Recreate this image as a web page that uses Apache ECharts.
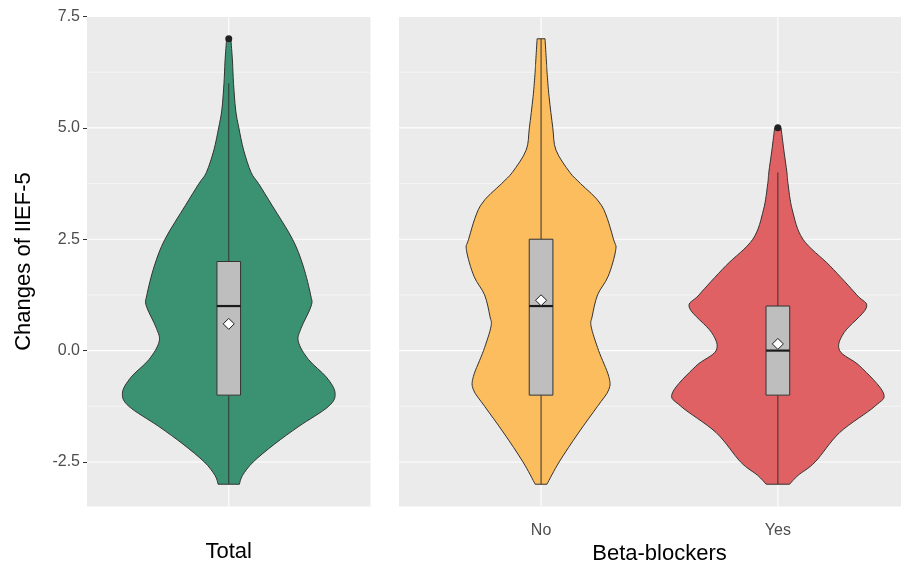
<!DOCTYPE html>
<html>
<head>
<meta charset="utf-8">
<script src="https://cdn.jsdelivr.net/npm/echarts@6/dist/echarts.min.js"></script>
<style>
  html, body { margin: 0; padding: 0; background: #ffffff; }
  #chart { width: 901px; height: 566px; }
</style>
</head>
<body>
<div id="chart"></div>
<script>
// Groups: 'Total' sits in the left panel, beta-blocker status in the right panel
const groupNames = ['Total', 'No', 'Yes'];
const panelOfGroup = [0, 1, 1];
const xOfGroup = [1, 1, 2];
const fillColors = ['#3A9273', '#FBBD5E', '#E06163'];

// Violin profiles: change-of-IIEF-5 levels and relative density (1 = widest violin)
const totalLevels  = [-3.0, -2.8, -2.5, -2.1, -1.7, -1.25, -0.95, -0.6, -0.2, 0.2, 0.5, 1.0, 1.25, 1.9, 2.5, 3.25, 3.75, 4.0, 4.5, 5.0, 5.4, 6.0, 6.5, 7.0];
const totalDensity = [0.10, 0.13, 0.23, 0.43, 0.66, 0.94, 1.00, 0.92, 0.75, 0.655, 0.68, 0.775, 0.77, 0.70, 0.60, 0.41, 0.28, 0.21, 0.14, 0.095, 0.065, 0.045, 0.035, 0.02];

const noLevels  = [-3.0, -2.5, -1.85, -1.25, -0.88, -0.58, 0.0, 0.54, 0.77, 1.25, 1.67, 2.25, 2.5, 3.25, 3.75, 4.0, 4.5, 5.0, 5.7, 6.25, 6.5, 7.0];
const noDensity = [0.055, 0.17, 0.35, 0.53, 0.635, 0.635, 0.54, 0.47, 0.48, 0.53, 0.63, 0.70, 0.68, 0.57, 0.37, 0.27, 0.14, 0.11, 0.075, 0.056, 0.05, 0.037];

const yesLevels  = [-3.0, -2.8, -2.5, -1.84, -1.25, -0.95, -0.35, 0.0, 0.4, 0.96, 1.25, 1.9, 2.5, 3.16, 3.75, 4.0, 4.5, 5.0];
const yesDensity = [0.11, 0.19, 0.35, 0.58, 0.91, 0.99, 0.77, 0.58, 0.62, 0.83, 0.74, 0.49, 0.235, 0.135, 0.095, 0.085, 0.056, 0.03];

// Box-plot summaries per group
const lowerWhisker = [-3, -3, -3];
const q1           = [-1, -1, -1];
const median       = [1, 1, 0];
const q3           = [2, 2.5, 1];
const upperWhisker = [6, 7, 4];
const meanValue    = [0.6, 1.13, 0.15];

// Outlying observations
const outlierGroup = [0, 2];
const outlierValue = [7, 5];

// Axis ticks and ranges (the right panel runs off the page edge)
const yMajorTicks = [-2.5, 0, 2.5, 5, 7.5];
const yMinorTicks = [-1.25, 1.25, 3.75, 6.25];
const yRange = [-3.5, 7.5];
const panelXRange = [[0.4, 1.6], [0.4, 2.52]];
const panelTitles = ['Total', 'Beta-blockers'];
const yTitle = 'Changes of IIEF-5';

const violinLevels = [totalLevels, noLevels, yesLevels];
const violinDensity = [totalDensity, noDensity, yesDensity];
const violinHalfWidth = 0.45;
const boxHalfWidth = 0.05;
const ink = '#333333';
const font = '"Liberation Sans", Arial, sans-serif';

function groupsIn(panel) {
  return groupNames.map((_, g) => g).filter(g => panelOfGroup[g] === panel);
}

// Background grid lines: kind 0 = major horizontal, 1 = minor horizontal, 2 = vertical
function gridLineData(panel) {
  const rows = [];
  yMajorTicks.forEach(v => rows.push([0, v]));
  yMinorTicks.forEach(v => rows.push([1, v]));
  groupsIn(panel).forEach(g => rows.push([2, xOfGroup[g]]));
  return rows;
}

function renderGridLine(params, api) {
  const kind = api.value(0);
  const v = api.value(1);
  const cs = params.coordSys;
  if (kind === 2) {
    const x = api.coord([v, 0])[0];
    return { type: 'line', shape: { x1: x, y1: cs.y, x2: x, y2: cs.y + cs.height },
             style: { stroke: '#ffffff', lineWidth: 1.1 } };
  }
  const y = api.coord([1, v])[1];
  return { type: 'line', shape: { x1: cs.x, y1: y, x2: cs.x + cs.width, y2: y },
           style: { stroke: '#ffffff', lineWidth: kind === 0 ? 1.1 : 0.55 } };
}

// Smooth open curve through pixel points (Catmull-Rom written as cubic Beziers)
function curveThrough(pts) {
  let d = '';
  for (let i = 0; i < pts.length - 1; i++) {
    const p0 = pts[Math.max(i - 1, 0)], p1 = pts[i], p2 = pts[i + 1], p3 = pts[Math.min(i + 2, pts.length - 1)];
    const c1 = [p1[0] + (p2[0] - p0[0]) / 6, p1[1] + (p2[1] - p0[1]) / 6];
    const c2 = [p2[0] - (p3[0] - p1[0]) / 6, p2[1] - (p3[1] - p1[1]) / 6];
    d += ' C' + c1[0].toFixed(2) + ' ' + c1[1].toFixed(2) + ' ' + c2[0].toFixed(2) + ' ' + c2[1].toFixed(2) +
         ' ' + p2[0].toFixed(2) + ' ' + p2[1].toFixed(2);
  }
  return d;
}

function renderViolin(params, api) {
  const xc = api.value(0);
  const g = api.value(1);
  const lv = violinLevels[g], dn = violinDensity[g];
  const right = lv.map((v, i) => api.coord([xc + dn[i] * violinHalfWidth, v]));
  const left = lv.map((v, i) => api.coord([xc - dn[i] * violinHalfWidth, v])).reverse();
  const pathData = 'M' + right[0][0].toFixed(2) + ' ' + right[0][1].toFixed(2) + curveThrough(right) +
    ' L' + left[0][0].toFixed(2) + ' ' + left[0][1].toFixed(2) + curveThrough(left) + ' Z';
  return { type: 'path', shape: { pathData: pathData },
           style: { fill: fillColors[g], stroke: ink, lineWidth: 1 } };
}

function renderBox(params, api) {
  const xc = api.value(0);
  const g = api.value(1);
  const pLow = api.coord([xc, lowerWhisker[g]]);
  const pQ1 = api.coord([xc, q1[g]]);
  const pQ3 = api.coord([xc, q3[g]]);
  const pHigh = api.coord([xc, upperWhisker[g]]);
  const left = api.coord([xc - boxHalfWidth, median[g]]);
  const right = api.coord([xc + boxHalfWidth, median[g]]);
  return {
    type: 'group',
    children: [
      { type: 'line', shape: { x1: pLow[0], y1: pLow[1], x2: pQ1[0], y2: pQ1[1] }, style: { stroke: ink, lineWidth: 1 } },
      { type: 'line', shape: { x1: pQ3[0], y1: pQ3[1], x2: pHigh[0], y2: pHigh[1] }, style: { stroke: ink, lineWidth: 1 } },
      { type: 'rect', shape: { x: left[0], y: pQ3[1], width: right[0] - left[0], height: pQ1[1] - pQ3[1] },
        style: { fill: '#BEBEBE', stroke: ink, lineWidth: 1 } },
      { type: 'line', shape: { x1: left[0], y1: left[1], x2: right[0], y2: right[1] }, style: { stroke: '#1a1a1a', lineWidth: 2.2 } }
    ]
  };
}

const series = [];
[0, 1].forEach(panel => {
  const gs = groupsIn(panel);
  const axisRef = { xAxisIndex: panel, yAxisIndex: panel };
  series.push(Object.assign({ type: 'custom', name: 'grid' + panel, z: 0, silent: true,
    renderItem: renderGridLine, data: gridLineData(panel) }, axisRef));
  series.push(Object.assign({ type: 'custom', name: 'violin' + panel, z: 1,
    renderItem: renderViolin, data: gs.map(g => [xOfGroup[g], g]) }, axisRef));
  series.push(Object.assign({ type: 'custom', name: 'box' + panel, z: 2,
    renderItem: renderBox, data: gs.map(g => [xOfGroup[g], g]) }, axisRef));
  series.push(Object.assign({ type: 'scatter', name: 'mean' + panel, z: 3,
    symbol: 'diamond', symbolSize: 11,
    itemStyle: { color: '#ffffff', borderColor: '#1a1a1a', borderWidth: 1, opacity: 1 },
    data: gs.map(g => [xOfGroup[g], meanValue[g]]) }, axisRef));
  series.push(Object.assign({ type: 'scatter', name: 'outlier' + panel, z: 3,
    symbol: 'circle', symbolSize: 7,
    itemStyle: { color: '#222222', opacity: 1 },
    data: outlierGroup.map((g, i) => [g, i]).filter(d => panelOfGroup[d[0]] === panel)
      .map(d => [xOfGroup[d[0]], outlierValue[d[1]]]) }, axisRef));
});

const tickStyle = { color: ink, width: 1 };

const option = {
  animation: false,
  backgroundColor: '#ffffff',
  grid: [
    { left: 87, width: 283.5, top: 16.5, bottom: 59.5, outerBoundsMode: 'none',
      show: true, backgroundColor: '#EBEBEB', borderWidth: 0 },
    { left: 399, right: 0, top: 16.5, bottom: 59.5, outerBoundsMode: 'none',
      show: true, backgroundColor: '#EBEBEB', borderWidth: 0 }
  ],
  xAxis: [0, 1].map(panel => ({
    type: 'value',
    gridIndex: panel,
    min: panelXRange[panel][0],
    max: panelXRange[panel][1],
    axisLine: { show: false },
    splitLine: { show: false },
    axisTick: { show: true, length: 4, lineStyle: tickStyle, customValues: groupsIn(panel).map(g => xOfGroup[g]) },
    axisLabel: {
      show: panel === 1,
      customValues: groupsIn(panel).map(g => xOfGroup[g]),
      formatter: v => {
        const g = groupsIn(panel).find(k => xOfGroup[k] === v);
        return g === undefined ? '' : groupNames[g];
      },
      color: '#4D4D4D', fontSize: 16, fontFamily: font, margin: 16
    },
    name: panelTitles[panel],
    nameLocation: 'middle',
    nameGap: 34,
    nameTextStyle: { color: '#000000', fontSize: 22, fontFamily: font,
                     padding: panel === 1 ? [0, 0, 0, 19] : 0 }
  })),
  yAxis: [0, 1].map(panel => ({
    type: 'value',
    gridIndex: panel,
    min: yRange[0],
    max: yRange[1],
    show: panel === 0,
    axisLine: { show: false },
    splitLine: { show: false },
    axisTick: { show: true, length: 4, lineStyle: tickStyle, customValues: yMajorTicks },
    axisLabel: {
      customValues: yMajorTicks,
      formatter: v => Number(v).toFixed(1),
      color: '#4D4D4D', fontSize: 16, fontFamily: font, margin: 7
    },
    name: panel === 0 ? yTitle : '',
    nameLocation: 'middle',
    nameGap: 52,
    nameRotate: 90,
    nameTextStyle: { color: '#000000', fontSize: 22, fontFamily: font }
  })),
  series: series
};

const chart = echarts.init(document.getElementById('chart'), null, { renderer: 'canvas' });
chart.setOption(option);
</script>
</body>
</html>
